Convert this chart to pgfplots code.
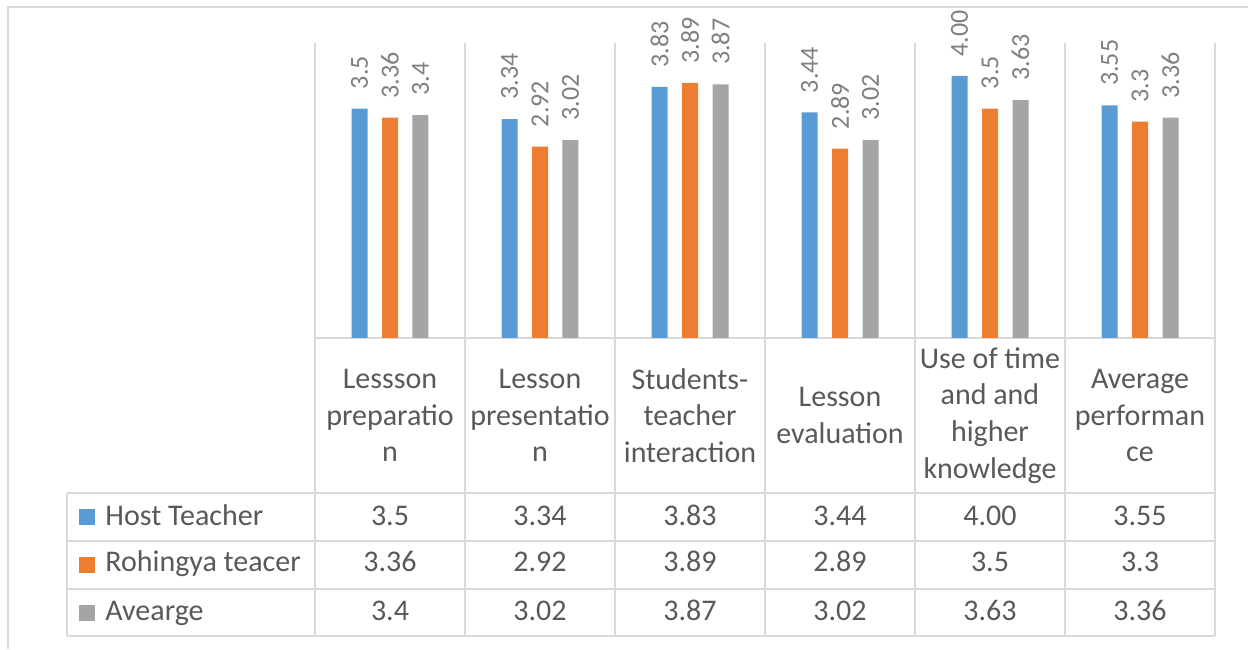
\documentclass[border=0pt]{standalone}
\usepackage{pgfplots}
\usepackage{pgfplotstable}
\pgfplotsset{compat=1.18}
\usepackage{fontspec}
\setmainfont{Carlito}

\definecolor{hostblue}{HTML}{5B9BD5}
\definecolor{rohorange}{HTML}{ED7D31}
\definecolor{avggray}{HTML}{A5A5A5}
\definecolor{txtgray}{HTML}{595959}
\definecolor{lblgray}{HTML}{7F7F7F}
\definecolor{linegray}{HTML}{D9D9D9}

% x: category index, value, and the label as printed
\pgfplotstableread{
x val lab
0 3.5  3.5
1 3.34 3.34
2 3.83 3.83
3 3.44 3.44
4 4.00 4.00
5 3.55 3.55
}\hostdata
\pgfplotstableread{
x val lab
0 3.36 3.36
1 2.92 2.92
2 3.89 3.89
3 2.89 2.89
4 3.5  3.5
5 3.3  3.3
}\rohdata
\pgfplotstableread{
x val lab
0 3.4  3.4
1 3.02 3.02
2 3.87 3.87
3 3.02 3.02
4 3.63 3.63
5 3.36 3.36
}\avgdata

\begin{document}
\begin{tikzpicture}
\useasboundingbox (0,0) rectangle (624pt,324.5pt);
% chart frame
\draw[linegray, line width=1.3pt] (4pt,0) -- (4pt,321pt) -- (624pt,321pt);
\begin{axis}[
  at={(157.5pt,155.5pt)}, anchor=south west,
  scale only axis, width=450pt, height=147.5pt,
  xmin=-0.5, xmax=5.5, ymin=0, ymax=4.5,
  axis x line=bottom, axis y line=none,
  x axis line style={draw=none},
  xtick={0,...,5},
  xtick style={draw=none},
  major tick length=0pt,
  xticklabels={{Lessson\\preparatio\\n},{Lesson\\presentatio\\n},{Students-\\teacher\\interaction},{Lesson\\evaluation},{Use of time\\and and\\higher\\knowledge},{Average\\performan\\ce}},
  xticklabel style={font=\fontsize{15}{18.3}\selectfont, align=center, anchor=center, yshift=-38.75pt, text=txtgray},
  clip=false,
  point meta=explicit symbolic,
]
% grid of the plot area and data table
\foreach \xx in {-0.5,0.5,...,5.5}{
  \edef\tmp{\noexpand\draw[linegray, line width=1.2pt] (axis cs:\xx,4.5) -- (axis cs:\xx,-4.546);}\tmp
}
\draw[linegray, line width=1.2pt] (axis cs:-0.5,0) -- (axis cs:5.5,0);
\foreach \yy in {-2.364,-3.097,-3.829,-4.546}{
  \edef\tmp{\noexpand\draw[linegray, line width=1.2pt] (axis cs:-2.153,\yy) -- (axis cs:5.5,\yy);}\tmp
}
\draw[linegray, line width=1.2pt] (axis cs:-2.153,-2.364) -- (axis cs:-2.153,-4.546);

% bars (three per category, placed side by side) with rotated value labels
\pgfplotsset{barlab/.style={ybar, bar width=8pt, bar shift=0pt, draw=none, nodes near coords, nodes near coords style={font=\fontsize{13}{15}\selectfont, text=lblgray, rotate=90, anchor=west, inner xsep=9.5pt, inner ysep=0pt}}}
\addplot[barlab, fill=hostblue] table[x expr=\thisrow{x}-0.2033, y=val, meta=lab] {\hostdata};
\addplot[barlab, fill=rohorange] table[x=x, y=val, meta=lab] {\rohdata};
\addplot[barlab, fill=avggray] table[x expr=\thisrow{x}+0.2033, y=val, meta=lab] {\avgdata};

% data table rows
\pgfplotsset{tablab/.style={draw=none, mark=none, nodes near coords, nodes near coords style={font=\fontsize{15}{18}\selectfont, text=txtgray, anchor=base, inner sep=0pt}}}
\addplot[tablab] table[x=x, y expr=-2.853, meta=lab] {\hostdata};
\addplot[tablab] table[x=x, y expr=-3.569, meta=lab] {\rohdata};
\addplot[tablab] table[x=x, y expr=-4.302, meta=lab] {\avgdata};

% legend keys of the table
\addplot[only marks, mark=square*, mark size=3.75pt, hostblue] coordinates {(-2.023,-2.730)};
\addplot[only marks, mark=square*, mark size=3.75pt, rohorange] coordinates {(-2.023,-3.463)};
\addplot[only marks, mark=square*, mark size=3.75pt, avggray] coordinates {(-2.023,-4.187)};
\node[anchor=base west, inner sep=0pt, text=txtgray, font=\fontsize{15}{18}\selectfont] at (axis cs:-1.9,-2.853) {Host Teacher};
\node[anchor=base west, inner sep=0pt, text=txtgray, font=\fontsize{15}{18}\selectfont] at (axis cs:-1.9,-3.569) {Rohingya teacer};
\node[anchor=base west, inner sep=0pt, text=txtgray, font=\fontsize{15}{18}\selectfont] at (axis cs:-1.9,-4.302) {Avearge};
\end{axis}
\end{tikzpicture}
\end{document}
